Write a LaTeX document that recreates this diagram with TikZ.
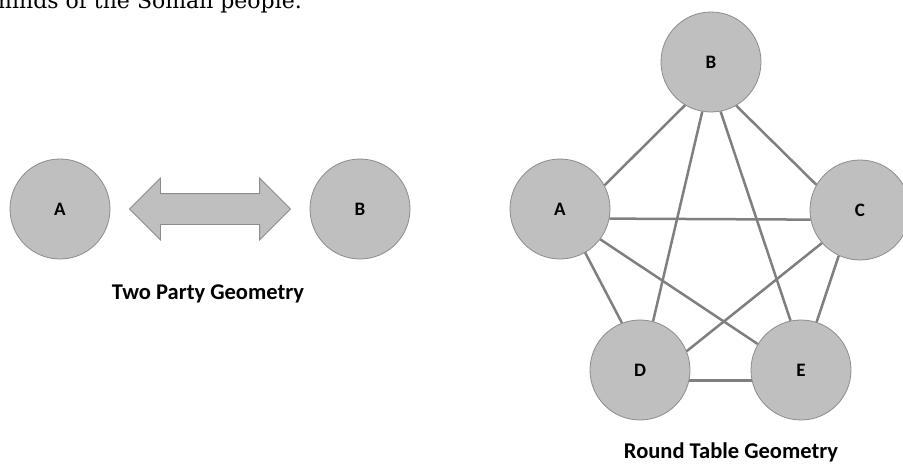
\documentclass[tikz,border=0pt]{standalone}
\usepackage{fontspec}
\setmainfont{DejaVu Serif}
\setsansfont{Carlito}
\usetikzlibrary{shapes.arrows}
\definecolor{disque}{HTML}{BFBFBF}
\definecolor{bord}{HTML}{8C8C8C}
\definecolor{trait}{HTML}{7F7F7F}
\newcommand{\diam}{100pt}

\begin{document}
\begin{tikzpicture}[x=1pt,y=-1pt,
  partie/.style={circle,draw=bord,fill=disque,line width=0.8pt,minimum size=\diam,inner sep=0pt,font=\sffamily\bfseries\fontsize{19}{19}\selectfont},
  lien/.style={draw=trait,line width=2.5pt},
  titre/.style={anchor=base,inner sep=0pt,font=\sffamily\bfseries\fontsize{22.5}{22.5}\selectfont}]
  \useasboundingbox (0,0) rectangle (903,464);
  \clip (0,0) rectangle (903,464);
  \node[anchor=base west,inner sep=0pt,font=\fontsize{22}{22}\selectfont] (phrase) at (-9,8) {minds of the Somali people.};
  % two party
  \node[partie] (a1) at (60,209) {A};
  \node[partie] (b1) at (360,209) {B};
  \node[double arrow,draw=bord,fill=disque,line width=0.8pt,minimum height=161pt,inner xsep=0pt,inner ysep=15pt,double arrow head extend=15.5pt] (fleche) at (210,209) {};
  \node[titre] (deux) at (208,299) {Two Party Geometry};
  % round table
  \node[partie] (a) at (560,209) {A};
  \node[partie] (b) at (711,62) {B};
  \node[partie] (c) at (860,210) {C};
  \node[partie] (d) at (640,370) {D};
  \node[partie] (e) at (801,370) {E};
  \draw[lien] (a.28) -- (b.239);
  \draw[lien] (b.300) -- (c.150);
  \draw[lien] (a.-11) -- (c.191);
  \draw[lien] (b.260) -- (d.75);
  \draw[lien] (b.281) -- (e.102);
  \draw[lien] (a.-60) -- (d.111);
  \draw[lien] (a.-37) -- (e.149);
  \draw[lien] (c.221) -- (d.22);
  \draw[lien] (c.245) -- (e.72);
  \draw[lien] (d.-12) -- (e.192);
  \node[titre] (table) at (731,458) {Round Table Geometry};
\end{tikzpicture}
\end{document}
